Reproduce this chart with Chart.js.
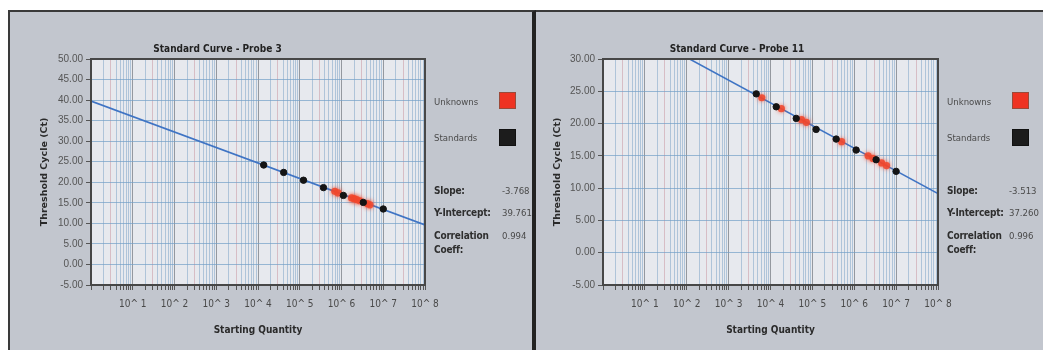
<!DOCTYPE html>
<html>
<head>
<meta charset="utf-8">
<script src="https://cdn.jsdelivr.net/npm/chart.js"></script>
<style>
body { margin:0; width:1043px; height:350px; overflow:hidden; position:relative; background:#fff; }
.panel { position:absolute; background:#c2c6ce; box-sizing:border-box; }
#p1 { left:8px; top:10px; width:528px; height:340px; border-left:2px solid #3a3a3a; border-top:2px solid #3a3a3a; border-right:4px solid #222; }
#p2 { left:536px; top:10px; width:507px; height:340px; border-top:2px solid #3a3a3a; }
canvas { position:absolute; }
#c1 { left:10px; top:12px; }
#c2 { left:536px; top:12px; }
.txt { position:absolute; white-space:nowrap; line-height:12px; font-family:'DejaVu Sans Condensed',sans-serif; }
.reg { font-size:9.5px; color:#4a4a4a; }
.bold { font-size:10px; font-weight:bold; color:#2e2e2e; letter-spacing:-0.2px; }
.box { position:absolute; width:15px; height:15px; }
</style>
</head>
<body>
<div class="panel" id="p1"></div>
<div class="panel" id="p2"></div>
<canvas id="c1" width="522" height="338"></canvas>
<canvas id="c2" width="507" height="338"></canvas>
<script>
// x axis: log decades 10^0 .. 10^8, labelled from 10^1
const decades = [0, 1, 2, 3, 4, 5, 6, 7, 8];
const minorSteps = [1, 2, 3, 4, 5, 6, 7, 8, 9];

// Probe 3
const p3Title = 'Standard Curve - Probe 3';
const p3StdQty = [1.37e4, 4.12e4, 1.23e5, 3.70e5, 1.11e6, 3.33e6, 1.0e7];
const p3StdCt = [24.2, 22.4, 20.5, 18.7, 16.8, 15.1, 13.5];
const p3UnkQty = [6.9e5, 8.3e5, 1.74e6, 2.0e6, 2.3e6, 2.75e6, 4.2e6, 4.8e6];
const p3UnkCt = [17.8, 17.4, 16.2, 16.0, 15.8, 15.5, 14.8, 14.5];
const p3YRange = [-5, 50];
const p3Slope = -3.768;
const p3Intercept = 39.761;
const p3Corr = 0.994;

// Probe 11
const p11Title = 'Standard Curve - Probe 11';
const p11StdQty = [4.57e3, 1.37e4, 4.12e4, 1.23e5, 3.70e5, 1.11e6, 3.33e6, 1.0e7];
const p11StdCt = [24.6, 22.6, 20.8, 19.1, 17.6, 15.9, 14.4, 12.6];
const p11UnkQty = [6.2e3, 1.82e4, 5.5e4, 7.2e4, 5.0e5, 2.14e6, 2.8e6, 4.5e6, 5.9e6];
const p11UnkCt = [24.0, 22.3, 20.6, 20.2, 17.2, 15.0, 14.6, 13.9, 13.5];
const p11YRange = [-5, 30];
const p11Slope = -3.513;
const p11Intercept = 37.260;
const p11Corr = 0.996;

const narrow = "'DejaVu Sans Condensed',sans-serif";

// plot background + frame
const plotFrame = {
    id: 'plotFrame',
    beforeDraw(chart) {
        const a = chart.chartArea, ctx = chart.ctx;
        ctx.save();
        ctx.fillStyle = '#e7e9ee';
        ctx.fillRect(a.left, a.top, a.right - a.left, a.bottom - a.top);
        ctx.restore();
    },
    beforeDatasetDraw(chart, args) {
        const ctx = chart.ctx;
        ctx.save();
        if (args.meta.label === 'Unknowns') {
            ctx.shadowColor = 'rgba(245,70,40,0.9)';
            ctx.shadowBlur = 4;
        }
    },
    afterDatasetDraw(chart) {
        chart.ctx.restore();
    },
    afterDraw(chart) {
        const a = chart.chartArea, ctx = chart.ctx;
        ctx.save();
        ctx.strokeStyle = '#474747';
        ctx.lineWidth = 2;
        ctx.strokeRect(a.left, a.top, a.right - a.left, a.bottom - a.top);
        ctx.restore();
    }
};

function buildChart(id, c) {
    return new Chart(document.getElementById(id), {
        type: 'scatter',
        data: {
            datasets: [
                {
                    label: 'Standards',
                    data: c.stdQty.map((q, i) => ({ x: q, y: c.stdCt[i] })),
                    backgroundColor: '#141414',
                    borderColor: '#141414',
                    pointRadius: 3.2
                },
                {
                    label: 'Unknowns',
                    data: c.unkQty.map((q, i) => ({ x: q, y: c.unkCt[i] })),
                    backgroundColor: 'rgba(240,70,45,0.85)',
                    borderWidth: 0,
                    pointRadius: 3.6
                },
                {
                    label: 'Fit',
                    data: [
                        { x: 1, y: c.intercept },
                        { x: 1e8, y: c.intercept + c.slope * 8 }
                    ],
                    showLine: true,
                    pointRadius: 0,
                    borderColor: '#3f74c4',
                    borderWidth: 1.6
                }
            ]
        },
        options: {
            responsive: false,
            animation: false,
            layout: { padding: { left: 0, right: c.padRight, top: 0, bottom: 0 } },
            plugins: {
                legend: { display: false },
                tooltip: { enabled: false },
                title: {
                    display: true,
                    text: c.title,
                    color: '#222',
                    font: { family: narrow, size: 10, weight: 'bold' },
                    padding: { top: 31, bottom: 4 }
                }
            },
            scales: {
                x: {
                    type: 'logarithmic',
                    min: 1,
                    max: 1e8,
                    afterBuildTicks(scale) {
                        const t = [];
                        decades.forEach(d => {
                            if (d === 8) { t.push({ value: 1e8 }); return; }
                            minorSteps.forEach(s => t.push({ value: s * Math.pow(10, d) }));
                        });
                        scale.ticks = t;
                    },
                    afterFit(scale) { scale.height = 65; },
                    ticks: {
                        autoSkip: false,
                        maxRotation: 0,
                        padding: 8,
                        color: '#4a4a4a',
                        font: { family: narrow, size: 10 },
                        callback(v) {
                            const k = Math.log10(v);
                            const r = Math.round(k);
                            return (Math.abs(k - r) < 1e-9 && r >= 1) ? '10^ ' + r : '';
                        }
                    },
                    grid: {
                        tickLength: 5,
                        tickColor: '#555',
                        lineWidth: 1,
                        color(ctx) {
                            const v = ctx.tick ? ctx.tick.value : 1;
                            const k = Math.log10(v);
                            const s = Math.round(v / Math.pow(10, Math.floor(k + 1e-9)));
                            if (s === 1) return 'rgba(120,124,132,0.75)';
                            if (s === 3) return 'rgba(205,160,170,0.6)';
                            return 'rgba(130,165,200,0.55)';
                        }
                    },
                    border: { color: '#474747', width: 2 },
                    title: {
                        display: true,
                        text: 'Starting Quantity',
                        color: '#2a2a2a',
                        font: { family: narrow, size: 10, weight: 'bold' },
                        padding: { top: 0, bottom: 14 }
                    }
                },
                y: {
                    min: c.yRange[0],
                    max: c.yRange[1],
                    afterFit(scale) { scale.width = c.yWidth; },
                    ticks: {
                        stepSize: 5,
                        padding: 3,
                        color: '#555',
                        font: { family: "'Liberation Sans',sans-serif", size: 10 },
                        callback: v => v.toFixed(2)
                    },
                    grid: {
                        tickLength: 5,
                        tickColor: '#555',
                        color: 'rgba(115,160,200,0.7)'
                    },
                    border: { color: '#474747', width: 2 },
                    title: {
                        display: true,
                        text: 'Threshold Cycle (Ct)',
                        color: '#2a2a2a',
                        font: { family: "'DejaVu Sans',sans-serif", size: 9.5, weight: 'bold' },
                        padding: { top: c.yTitlePad, bottom: 0 }
                    }
                }
            }
        },
        plugins: [plotFrame]
    });
}

buildChart('c1', {
    title: p3Title, stdQty: p3StdQty, stdCt: p3StdCt, unkQty: p3UnkQty, unkCt: p3UnkCt,
    yRange: p3YRange, slope: p3Slope, intercept: p3Intercept,
    padRight: 107, yWidth: 81, yTitlePad: 29
});
buildChart('c2', {
    title: p11Title, stdQty: p11StdQty, stdCt: p11StdCt, unkQty: p11UnkQty, unkCt: p11UnkCt,
    yRange: p11YRange, slope: p11Slope, intercept: p11Intercept,
    padRight: 105, yWidth: 67, yTitlePad: 16
});

// side legend and fit statistics (page coordinates)
function addText(text, cls, x, cy) {
    const d = document.createElement('div');
    d.className = 'txt ' + cls;
    d.textContent = text;
    d.style.left = x + 'px';
    d.style.top = (cy - 6) + 'px';
    document.body.appendChild(d);
}
function addBox(color, border, x, y) {
    const d = document.createElement('div');
    d.className = 'box';
    d.style.left = x + 'px';
    d.style.top = y + 'px';
    d.style.background = color;
    d.style.border = '1px solid ' + border;
    document.body.appendChild(d);
}
function sidePanel(x, boxX, valX, slope, intercept, corr) {
    addText('Unknowns', 'reg', x, 102);
    addBox('#ee3322', '#9a4a3a', boxX, 92);
    addText('Standards', 'reg', x, 138);
    addBox('#1c1c1c', '#111', boxX, 129);
    addText('Slope:', 'bold', x, 191);
    addText(slope.toFixed(3), 'reg', valX, 191);
    addText('Y-Intercept:', 'bold', x, 213);
    addText(intercept.toFixed(3), 'reg', valX, 213);
    addText('Correlation', 'bold', x, 236);
    addText('Coeff:', 'bold', x, 250);
    addText(corr.toFixed(3), 'reg', valX, 236);
}
sidePanel(434, 499, 502, p3Slope, p3Intercept, p3Corr);
sidePanel(947, 1012, 1009, p11Slope, p11Intercept, p11Corr);
</script>
</body>
</html>
